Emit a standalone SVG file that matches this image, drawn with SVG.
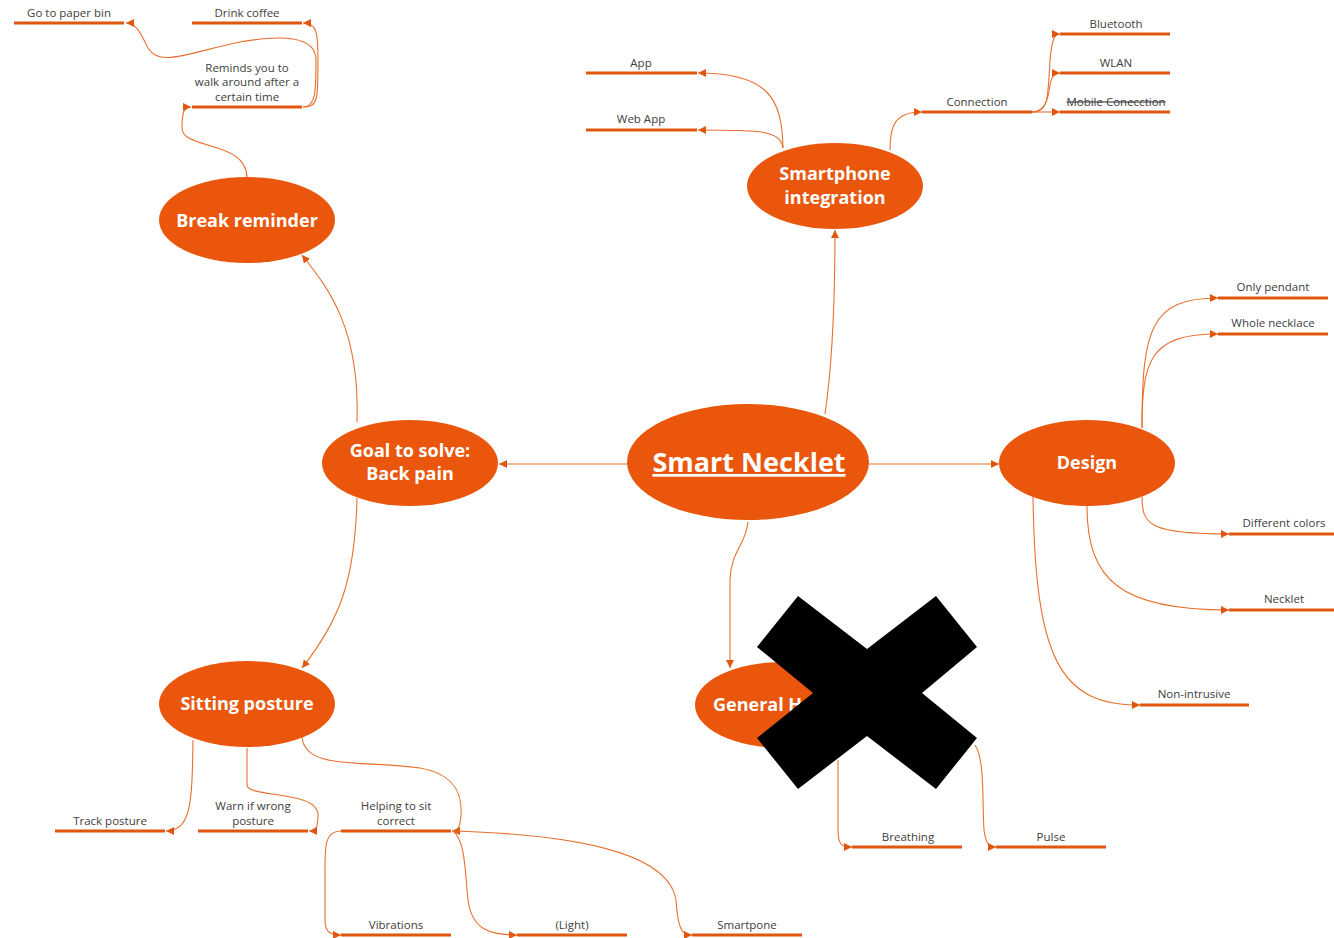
<svg xmlns="http://www.w3.org/2000/svg" width="1334" height="938" viewBox="0 0 1334 938">
<style>
.e{fill:#E9560C}
.t{font-family:"Open Sans","Noto Sans",sans-serif;font-weight:bold;fill:#fff;text-anchor:middle;font-size:18px}
.l{font-family:"Open Sans","Noto Sans",sans-serif;fill:#404040;text-anchor:middle;font-size:11.5px}
.b{stroke:#E0560F;stroke-width:3;fill:none}
.c path{stroke:#E8702E;stroke-width:1.1;fill:none;marker-end:url(#a)}
</style>
<defs>
<marker id="a" viewBox="0 0 10 10" refX="10" refY="5" markerWidth="8" markerHeight="8" markerUnits="userSpaceOnUse" orient="auto"><path d="M0,0 L10,5 L0,10z" fill="#E0560F"/></marker>
</defs>
<rect width="1334" height="938" fill="#fff"/>
<g id="connectors" class="c">
<path d="M628,464 L499,464"/>
<path d="M869,464 L999,464"/>
<path d="M825,414 C830,380 835,330 835,230"/>
<path d="M748,522 C746,545 731,550 730,580 L730,668"/>
<path d="M357,422 C360,330 330,290 302,255"/>
<path d="M357,498 C355,580 340,620 302,668"/>
<path d="M247,178 C247,140 182,150 182,128 C182,112 184,107 191,107"/>
<path d="M303,107 C318,107 318,100 318,60 C318,30 316,23 303,23"/>
<path d="M303,107 C316,107 316,90 316,60 C316,35 280,35 240,42 C190,52 160,68 148,48 C140,32 136,23 126,23"/>
<path d="M783,148 C782,100 770,73 698,73"/>
<path d="M783,148 C780,130 760,130 698,130"/>
<path d="M890,150 C890,125 895,112 922,112"/>
<path d="M1032,112 C1048,112 1048,100 1050,60 C1052,38 1055,34 1060,34"/>
<path d="M1032,112 C1045,112 1048,100 1050,85 C1052,75 1055,73 1060,73"/>
<path d="M1032,112 L1060,112"/>
<path d="M1142,428 C1142,330 1150,298 1218,298"/>
<path d="M1142,428 C1142,360 1150,334 1218,334"/>
<path d="M1142,497 C1142,525 1150,534 1229,534"/>
<path d="M1087,506 C1087,580 1120,610 1229,610"/>
<path d="M1033,495 C1035,660 1060,705 1140,705"/>
<path d="M193,740 C192,800 192,831 166,831"/>
<path d="M247,748 L247,785 C247,798 318,790 318,815 C318,828 316,831 309,831"/>
<path d="M302,737 C305,770 360,760 420,768 C460,775 462,800 461,815 C460,828 458,831 452,831"/>
<path d="M341,831 C325,831 325,845 325,870 L325,920 C325,932 330,935 341,935"/>
<path d="M453,831 C465,840 465,870 468,900 C472,930 490,935 517,935"/>
<path d="M453,831 C600,835 670,860 676,900 C678,930 682,935 692,935"/>
<path d="M838,760 L838,830 C838,845 842,847 852,847"/>
<path d="M975,745 C985,760 982,800 984,830 C986,845 990,847 996,847"/>
</g>
<g id="smart-necklet"><ellipse class="e" cx="748" cy="462" rx="121" ry="58"/><text class="t" x="749" y="472" style="font-size:27px;text-decoration:underline">Smart Necklet</text></g>
<g id="goal"><ellipse class="e" cx="410" cy="463" rx="88" ry="43"/><text class="t" x="410" y="457">Goal to solve:</text><text class="t" x="410" y="480">Back pain</text></g>
<g id="break-reminder"><ellipse class="e" cx="247" cy="220" rx="88" ry="43"/><text class="t" x="247" y="227">Break reminder</text></g>
<g id="smartphone"><ellipse class="e" cx="835" cy="186" rx="88" ry="43"/><text class="t" x="835" y="180">Smartphone</text><text class="t" x="835" y="204">integration</text></g>
<g id="design"><ellipse class="e" cx="1087" cy="463" rx="88" ry="43"/><text class="t" x="1087" y="469">Design</text></g>
<g id="sitting"><ellipse class="e" cx="247" cy="704" rx="88" ry="43"/><text class="t" x="247" y="710">Sitting posture</text></g>
<g id="general"><ellipse class="e" cx="783" cy="705" rx="88" ry="43"/><text class="t" x="713" y="711" style="text-anchor:start">General H</text></g>
<g id="paper-bin"><path class="b" d="M14,23 H124"/><text class="l" x="69" y="17">Go to paper bin</text></g>
<g id="coffee"><path class="b" d="M192,23 H302"/><text class="l" x="247" y="17">Drink coffee</text></g>
<g id="reminds"><path class="b" d="M192,107 H302"/><text class="l" x="247" y="72">Reminds you to</text><text class="l" x="247" y="86">walk around after a</text><text class="l" x="247" y="101">certain time</text></g>
<g id="app"><path class="b" d="M586,73 H697"/><text class="l" x="641" y="67">App</text></g>
<g id="webapp"><path class="b" d="M586,130 H697"/><text class="l" x="641" y="123">Web App</text></g>
<g id="connection"><path class="b" d="M922,112 H1032"/><text class="l" x="977" y="106">Connection</text></g>
<g id="bluetooth"><path class="b" d="M1060,34 H1170"/><text class="l" x="1116" y="28">Bluetooth</text></g>
<g id="wlan"><path class="b" d="M1060,73 H1170"/><text class="l" x="1116" y="67">WLAN</text></g>
<g id="mobile"><path class="b" d="M1060,112 H1170"/><text class="l" x="1116" y="106" style="text-decoration:line-through">Mobile Conecction</text></g>
<g id="pendant"><path class="b" d="M1218,298 H1328"/><text class="l" x="1273" y="291">Only pendant</text></g>
<g id="necklace"><path class="b" d="M1218,334 H1328"/><text class="l" x="1273" y="327">Whole necklace</text></g>
<g id="colors"><path class="b" d="M1229,534 H1334"/><text class="l" x="1284" y="527">Different colors</text></g>
<g id="necklet"><path class="b" d="M1229,610 H1334"/><text class="l" x="1284" y="603">Necklet</text></g>
<g id="nonintrusive"><path class="b" d="M1140,705 H1249"/><text class="l" x="1194" y="698">Non-intrusive</text></g>
<g id="track"><path class="b" d="M55,831 H165"/><text class="l" x="110" y="825">Track posture</text></g>
<g id="warn"><path class="b" d="M198,831 H308"/><text class="l" x="253" y="810">Warn if wrong</text><text class="l" x="253" y="825">posture</text></g>
<g id="helping"><path class="b" d="M341,831 H451"/><text class="l" x="396" y="810">Helping to sit</text><text class="l" x="396" y="825">correct</text></g>
<g id="vibrations"><path class="b" d="M341,935 H451"/><text class="l" x="396" y="929">Vibrations</text></g>
<g id="light"><path class="b" d="M517,935 H627"/><text class="l" x="572" y="929">(Light)</text></g>
<g id="smartpone"><path class="b" d="M692,935 H802"/><text class="l" x="747" y="929">Smartpone</text></g>
<g id="breathing"><path class="b" d="M852,847 H962"/><text class="l" x="908" y="841">Breathing</text></g>
<g id="pulse"><path class="b" d="M996,847 H1106"/><text class="l" x="1051" y="841">Pulse</text></g>
<polygon id="cross" points="798,596 867,649 936,596 977,647 922,693 977,738 936,789 867,736 798,789 757,738 813,693 757,647" fill="#000"/>
</svg>
